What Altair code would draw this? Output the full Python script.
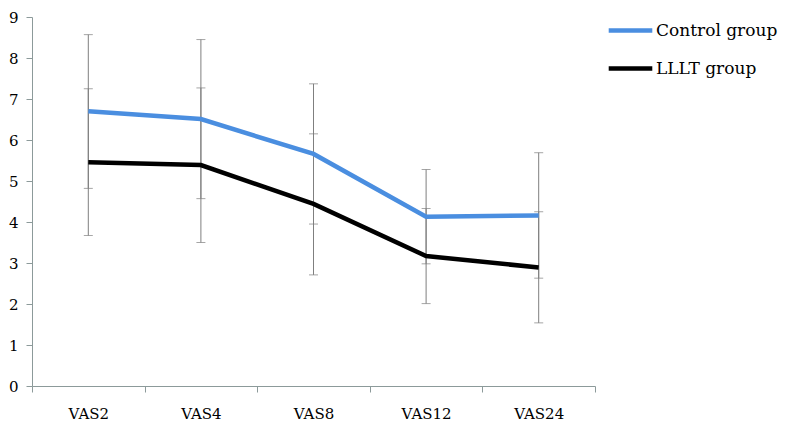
import altair as alt
import pandas as pd

categories = ["VAS2", "VAS4", "VAS8", "VAS12", "VAS24"]
groups = ["Control group", "LLLT group"]
control_mean = [6.70, 6.51, 5.66, 4.13, 4.16]
control_low = [4.82, 4.57, 3.95, 2.98, 2.63]
control_high = [8.57, 8.45, 7.37, 5.28, 5.69]
lllt_mean = [5.46, 5.39, 4.44, 3.17, 2.89]
lllt_low = [3.67, 3.50, 2.71, 2.01, 1.54]
lllt_high = [7.25, 7.27, 6.15, 4.33, 4.25]

rows = []
for i, c in enumerate(categories):
    rows.append({"cat": c, "group": groups[0], "mean": control_mean[i], "low": control_low[i], "high": control_high[i]})
    rows.append({"cat": c, "group": groups[1], "mean": lllt_mean[i], "low": lllt_low[i], "high": lllt_high[i]})
df = pd.DataFrame(rows)

FONT = "DejaVu Serif"
AXIS_COLOR = "#8C9A9A"

x = alt.X("cat:N", sort=categories, title=None,
          scale=alt.Scale(paddingInner=0, paddingOuter=0),
          axis=alt.Axis(labelAngle=0, labelFontSize=15, labelFont=FONT, labelColor="#000",
                        domainColor=AXIS_COLOR, tickColor=AXIS_COLOR, tickBand="extent",
                        tickSize=6, labelPadding=14, grid=False))
y = alt.Y("mean:Q", title=None,
          scale=alt.Scale(domain=[0, 9], nice=False),
          axis=alt.Axis(values=list(range(10)), labelFontSize=15, labelFont=FONT, labelColor="#000",
                        domainColor=AXIS_COLOR, tickColor=AXIS_COLOR, tickSize=6,
                        labelPadding=8, grid=False))

base = alt.Chart(df)

err = base.mark_rule(color="#7F7F7F", strokeWidth=1).encode(
    x=x, y=alt.Y("low:Q"), y2="high:Q")
cap_lo = base.mark_tick(color="#7F7F7F", thickness=1, size=9, orient="horizontal").encode(
    x=x, y=alt.Y("low:Q"))
cap_hi = base.mark_tick(color="#7F7F7F", thickness=1, size=9, orient="horizontal").encode(
    x=x, y=alt.Y("high:Q"))

lines = base.mark_line(strokeWidth=4.5).encode(
    x=x, y=y,
    color=alt.Color("group:N", scale=alt.Scale(domain=groups, range=["#4A8EE0", "#000000"]),
                    legend=alt.Legend(title=None, orient="none", legendX=574, legendY=-11,
                                      symbolType="stroke", symbolStrokeWidth=4.5, symbolSize=1900,
                                      labelFont=FONT, labelFontSize=17, labelColor="#000",
                                      labelOffset=1, rowPadding=4, labelLimit=300)),
)

chart = alt.layer(err, cap_lo, cap_hi, lines).properties(
    width=563, height=369,
    background="white",
    autosize=alt.AutoSizeParams(type="none"),
    padding={"left": 24, "top": 9, "right": 186, "bottom": 41},
).configure_view(strokeWidth=0, stroke="transparent")

chart.save("out.html", embed_options={"renderer": "svg", "actions": False})
